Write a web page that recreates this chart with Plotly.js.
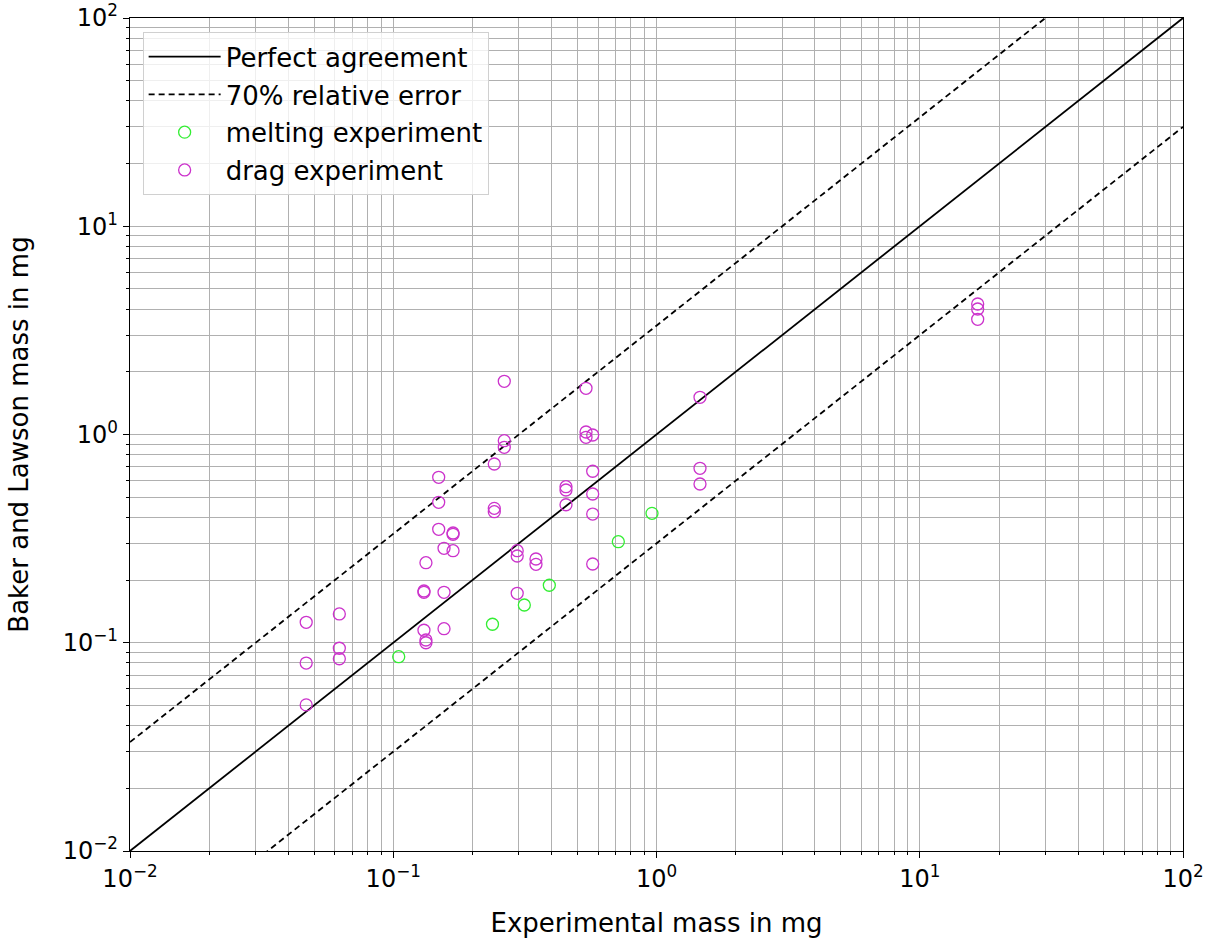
<!DOCTYPE html>
<html>
<head>
<meta charset="utf-8">
<script src="https://cdn.plot.ly/plotly-3.0.1.min.js"></script>
<style>html,body{margin:0;padding:0;background:#fff;}#chart{width:1211px;height:938px;}</style>
</head>
<body>
<div id="chart"></div>
<script>
// Reference lines
const refX = [0.01, 100];
const perfectY = [0.01, 100];
const upperY = [0.03333, 333.3];
const lowerY = [0.003, 30];

// Melting experiment
const meltX = [0.1049, 0.2382, 0.3147, 0.3916, 0.7161, 0.9614];
const meltY = [0.0857, 0.1227, 0.1518, 0.1888, 0.3056, 0.4183];

// Drag experiment
const dragX = [0.0467, 0.0467, 0.0467,
  0.0624, 0.0624, 0.0624,
  0.1308, 0.1308, 0.1308,
  0.1331, 0.1331, 0.1331,
  0.1488, 0.1488, 0.1488,
  0.1559, 0.1559, 0.1559,
  0.1687, 0.1687, 0.1687,
  0.2420, 0.2420, 0.2420,
  0.2641, 0.2641, 0.2641,
  0.2957, 0.2957, 0.2957,
  0.3485, 0.3485,
  0.4531, 0.4531, 0.4531,
  0.5398, 0.5398, 0.5398,
  0.5723, 0.5723, 0.5723, 0.5723, 0.5723,
  1.463, 1.463, 1.463,
  16.60, 16.60, 16.60];
const dragY = [0.1254, 0.0799, 0.0503,
  0.1375, 0.0941, 0.0838,
  0.1772, 0.1747, 0.1148,
  0.1031, 0.1000, 0.2423,
  0.623, 0.4725, 0.3505,
  0.2842, 0.1747, 0.1168,
  0.3365, 0.3317, 0.2767,
  0.7218, 0.4420, 0.4258,
  1.801, 0.934, 0.868,
  0.2767, 0.261, 0.1728,
  0.2525, 0.238,
  0.5614, 0.5413, 0.460,
  1.667, 1.028, 0.9696,
  0.9945, 0.666, 0.518, 0.415, 0.2388,
  1.509, 0.688, 0.5784,
  4.234, 4.005, 3.574];

const tickVals = [0.01, 0.1, 1, 10, 100];
const tickText = ['10<sup>−2</sup>', '10<sup>−1</sup>', '10<sup>0</sup>', '10<sup>1</sup>', '10<sup>2</sup>'];

const FONT = 'DejaVu Sans, sans-serif';

const traces = [
  {x: refX, y: perfectY, mode: 'lines', name: 'Perfect agreement', legendgroup: 'a',
   line: {color: '#000', width: 1.8}},
  {x: refX, y: upperY, mode: 'lines', name: '70% relative error', legendgroup: 'b',
   line: {color: '#000', width: 1.8, dash: '6px,4px'}},
  {x: refX, y: lowerY, mode: 'lines', name: '70% relative error', legendgroup: 'b', showlegend: false,
   line: {color: '#000', width: 1.8, dash: '6px,4px'}},
  {x: meltX, y: meltY, mode: 'markers', name: 'melting experiment', legendgroup: 'c',
   marker: {symbol: 'circle-open', size: 12, color: '#33ee33', line: {width: 1.3, color: '#33ee33'}}},
  {x: dragX, y: dragY, mode: 'markers', name: 'drag experiment', legendgroup: 'd',
   marker: {symbol: 'circle-open', size: 12, color: '#cc33cc', line: {width: 1.3, color: '#cc33cc'}}}
];

function axis(titleText, standoff) {
  return {
    type: 'log', range: [-2, 2], autorange: false,
    tickvals: tickVals, ticktext: tickText,
    tickfont: {family: FONT, size: 24, color: '#000'},
    ticks: 'outside', ticklen: 6, tickwidth: 1, tickcolor: '#000',
    showline: true, linecolor: '#000', linewidth: 1.2, mirror: true,
    showgrid: true, gridcolor: '#b0b0b0', gridwidth: 1,
    zeroline: false,
    minor: {dtick: 'D1', showgrid: true, gridcolor: '#b0b0b0', gridwidth: 1,
            ticks: 'outside', ticklen: 3, tickcolor: '#000'},
    title: {text: titleText, font: {family: FONT, size: 26, color: '#000'}, standoff: standoff}
  };
}

const layout = {
  width: 1211, height: 938,
  margin: {l: 130, r: 28, t: 18, b: 87},
  paper_bgcolor: '#fff', plot_bgcolor: '#fff',
  font: {family: FONT, color: '#000'},
  xaxis: axis('Experimental mass in mg', 22),
  yaxis: axis('Baker and Lawson mass in mg', 26),
  showlegend: true,
  legend: {x: 0.012, y: 0.983, xanchor: 'left', yanchor: 'top',
           bgcolor: 'rgba(255,255,255,0.8)', bordercolor: '#d0d0d0', borderwidth: 1,
           itemwidth: 72, tracegroupgap: 1,
           font: {family: FONT, size: 26, color: '#000'}}
};

Plotly.newPlot('chart', traces, layout, {displayModeBar: false, staticPlot: true});
</script>
</body>
</html>
